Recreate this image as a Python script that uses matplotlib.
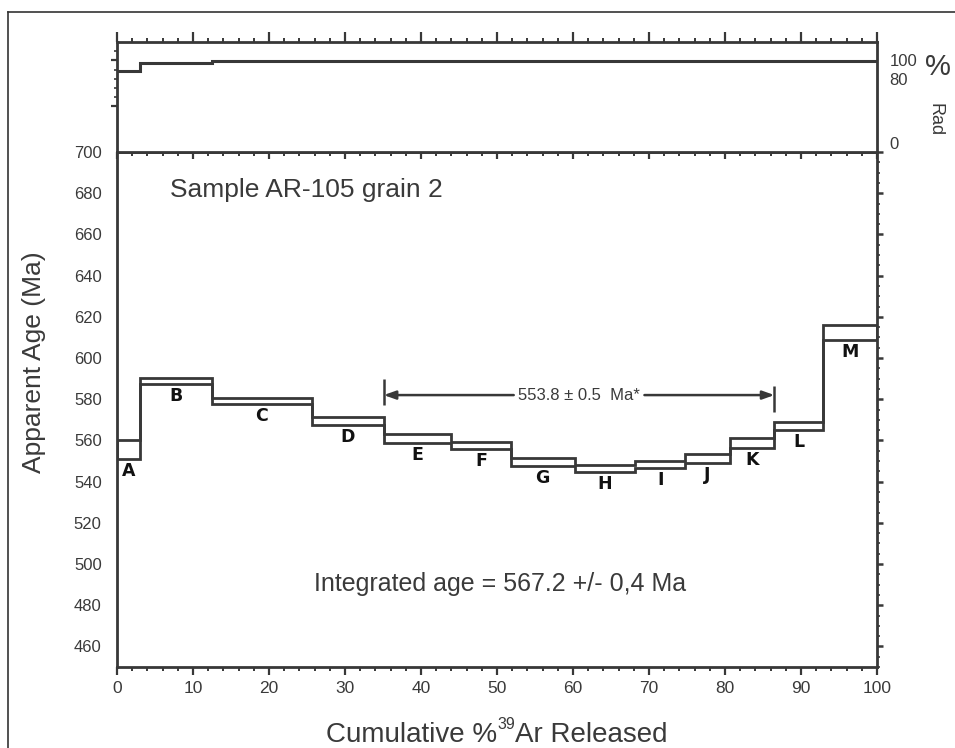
import matplotlib
matplotlib.use('Agg')
import matplotlib.pyplot as plt
from matplotlib.ticker import MultipleLocator, FixedLocator
from matplotlib.lines import Line2D

# ---------------- data ----------------
step_labels = ['A', 'B', 'C', 'D', 'E', 'F', 'G', 'H', 'I', 'J', 'K', 'L', 'M']
step_edges = [0, 3.0, 12.5, 25.6, 35.1, 44.0, 51.8, 60.2, 68.2, 74.8, 80.6, 86.5, 92.9, 100]
age_top = [560.0, 590.2, 580.8, 571.5, 563.2, 559.4, 551.6, 548.1, 550.2, 553.4, 561.0, 569.1, 616.0]
age_bottom = [551.0, 587.2, 577.8, 567.5, 558.6, 555.7, 547.7, 544.8, 546.5, 548.9, 556.2, 565.0, 608.7]
rad_percent = [88.5, 97.5, 99.8, 99.8, 99.8, 99.8, 99.8, 99.8, 99.8, 99.8, 99.8, 99.8, 99.8]
plateau_start = 35.1
plateau_end = 86.5
plateau_age_text = '553.8 \u00b1 0.5  Ma*'
integrated_text = 'Integrated age = 567.2 +/- 0,4 Ma'
sample_text = 'Sample AR-105 grain 2'
x_ticks = [0, 10, 20, 30, 40, 50, 60, 70, 80, 90, 100]
y_ticks = [460, 480, 500, 520, 540, 560, 580, 600, 620, 640, 660, 680, 700]
rad_ticks = [0, 80, 100]
rad_tick_labels = ['0', '80', '100']
xlabel_parts = ['Cumulative %', '39', 'Ar Released']
ylabel_text = 'Apparent Age (Ma)'

# ---------------- style ----------------
LC = '#383838'
TC = '#3a3a3a'
REG = ['Liberation Sans', 'DejaVu Sans']
NAR = ['Liberation Sans Narrow', 'Liberation Sans', 'DejaVu Sans']
plt.rcParams['font.family'] = REG

fig = plt.figure(figsize=(9.55, 7.48), dpi=100)
fig.patch.set_facecolor('white')

W, H = 955.0, 748.0
xl, xr = 117, 877
main_top, main_bot = 152, 667
up_top = 42

ax = fig.add_axes([xl / W, 1 - main_bot / H, (xr - xl) / W, (main_bot - main_top) / H])
axu = fig.add_axes([xl / W, 1 - main_top / H, (xr - xl) / W, (main_top - up_top) / H])

# ---------------- main panel ----------------
ax.set_xlim(0, 100)
ax.set_ylim(450, 700)
lw_box = 2.0
ax.stairs(age_top, step_edges, baseline=None, color=LC, lw=lw_box)
ax.stairs(age_bottom, step_edges, baseline=None, color=LC, lw=lw_box)
ax.vlines([step_edges[0]], age_bottom[0], age_top[0], color=LC, lw=lw_box)
ax.vlines([step_edges[-1]], age_bottom[-1], age_top[-1], color=LC, lw=lw_box)

for i, lab in enumerate(step_labels):
    xc = (step_edges[i] + step_edges[i + 1]) / 2
    ax.text(xc, age_bottom[i] - 5.8, lab, ha='center', va='center',
            fontsize=12.5, fontweight='heavy', color='#111111', family=['DejaVu Sans'])

# plateau arrow
arrow_y = 582
mid = (plateau_start + plateau_end) / 2
gap = 8.6
for x_from, x_to in [(mid - gap, plateau_start), (mid + gap, plateau_end)]:
    ax.annotate('', xy=(x_to, arrow_y), xytext=(x_from, arrow_y),
                arrowprops=dict(arrowstyle='-|>,head_length=0.7,head_width=0.25',
                                color=LC, lw=1.8, shrinkA=0, shrinkB=0))
ax.vlines([plateau_start], 577, 590, color=LC, lw=1.8)
ax.vlines([plateau_end], 574, 586.5, color=LC, lw=1.8)
ax.text(mid, arrow_y, plateau_age_text, ha='center', va='center', fontsize=12, color=TC)

ax.text(7.0, 681.5, sample_text, ha='left', va='center', fontsize=19, color=TC)
ax.text(50.4, 490.3, integrated_text, ha='center', va='center', fontsize=18, color=TC)

for s in ax.spines.values():
    s.set_linewidth(2.0)
    s.set_color(LC)

ax.set_xticks(x_ticks)
ax.xaxis.set_minor_locator(MultipleLocator(2))
ax.set_yticks(y_ticks)
ax.set_xticklabels([str(v) for v in x_ticks], family=NAR, fontsize=12.5, color=TC)
ax.set_yticklabels([str(v) for v in y_ticks], family=REG, fontsize=12, color=TC)
ax.tick_params(axis='x', which='major', direction='out', length=6, width=1.6, color=LC,
               top=True, pad=4)
ax.tick_params(axis='x', which='minor', direction='out', length=3, width=1.4, color=LC,
               top=True)
# top ticks pointing into the main panel
for t in ax.xaxis.get_major_ticks():
    t.tick2line.set_marker(3)
    t.tick2line.set_markersize(5)
for t in ax.xaxis.get_minor_ticks():
    t.tick2line.set_marker(3)
    t.tick2line.set_markersize(3)
ax.tick_params(axis='y', which='major', left=False, right=True, direction='out',
               length=4, width=1.8, color=LC, pad=7)
ax.yaxis.set_minor_locator(MultipleLocator(5))
ax.tick_params(axis='y', which='minor', left=False, right=True, direction='out',
               length=2, width=1.2, color=LC)

ax.set_ylabel(ylabel_text, fontsize=19, color=TC)
ax.yaxis.label.set_va('center')
ax.yaxis.set_label_coords((34 - xl) / (xr - xl), (main_bot - 362) / (main_bot - main_top))

# ---------------- upper % rad panel ----------------
axu.set_xlim(0, 100)
axu.set_ylim(0, 120)
axu.stairs(rad_percent, step_edges, baseline=None, color=LC, lw=2.2)
for s in axu.spines.values():
    s.set_linewidth(2.0)
    s.set_color(LC)
axu.set_xticks(x_ticks)
axu.xaxis.set_minor_locator(MultipleLocator(2))
axu.tick_params(axis='x', which='both', bottom=False, top=True, labelbottom=False,
                direction='out', color=LC)
axu.tick_params(axis='x', which='major', length=7, width=1.6)
axu.tick_params(axis='x', which='minor', length=3, width=1.4)
axu.yaxis.set_major_locator(FixedLocator([50, 100]))
axu.yaxis.set_minor_locator(FixedLocator([60, 70, 80, 90, 110]))
axu.tick_params(axis='y', which='major', left=True, right=False, labelleft=False,
                direction='out', length=4, width=1.6, color=LC)
axu.tick_params(axis='y', which='minor', left=True, right=False, direction='out',
                length=2, width=1.2, color=LC)

axr = axu.twinx()
axr.set_ylim(0, 120)
axr.set_yticks(rad_ticks)
axr.set_yticklabels(rad_tick_labels, fontsize=12, color=TC)
axr.tick_params(axis='y', length=0, pad=9)
for lab in axr.get_yticklabels():
    if lab.get_text() == '0':
        lab.set_va('bottom')
for s in axr.spines.values():
    s.set_visible(False)

fig.text(938 / W, 1 - 67 / H, '%', fontsize=21, color=TC, ha='center', va='center')
fig.text(935 / W, 1 - 120 / H, 'Rad', fontsize=13, color=TC, ha='center', va='center',
         rotation=-90)

# ---------------- x label with small superscript ----------------
base_y = 1 - 742 / H
sup_y = 1 - 729 / H
t1 = fig.text(0, base_y, xlabel_parts[0], fontsize=20, color=TC, family=NAR,
              ha='left', va='baseline')
t2 = fig.text(0, sup_y, xlabel_parts[1], fontsize=11.5, color=TC, family=NAR,
              ha='left', va='baseline')
t3 = fig.text(0, base_y, xlabel_parts[2], fontsize=20, color=TC, family=NAR,
              ha='left', va='baseline')
fig.canvas.draw()
r = fig.canvas.get_renderer()
w1 = t1.get_window_extent(r).width
w2 = t2.get_window_extent(r).width
w3 = t3.get_window_extent(r).width
total = w1 + w2 + w3
x0 = 497 - total / 2
t1.set_x(x0 / W)
t2.set_x((x0 + w1) / W)
t3.set_x((x0 + w1 + w2) / W)

# ---------------- outer frame (top and left edges visible) ----------------
fig.add_artist(Line2D([8 / W, 1.0], [1 - 12 / H, 1 - 12 / H], color='#333333', lw=1.2,
                      transform=fig.transFigure))
fig.add_artist(Line2D([8 / W, 8 / W], [1 - 12 / H, 0.0], color='#333333', lw=1.2,
                      transform=fig.transFigure))

fig.savefig('out.png', dpi=100)
